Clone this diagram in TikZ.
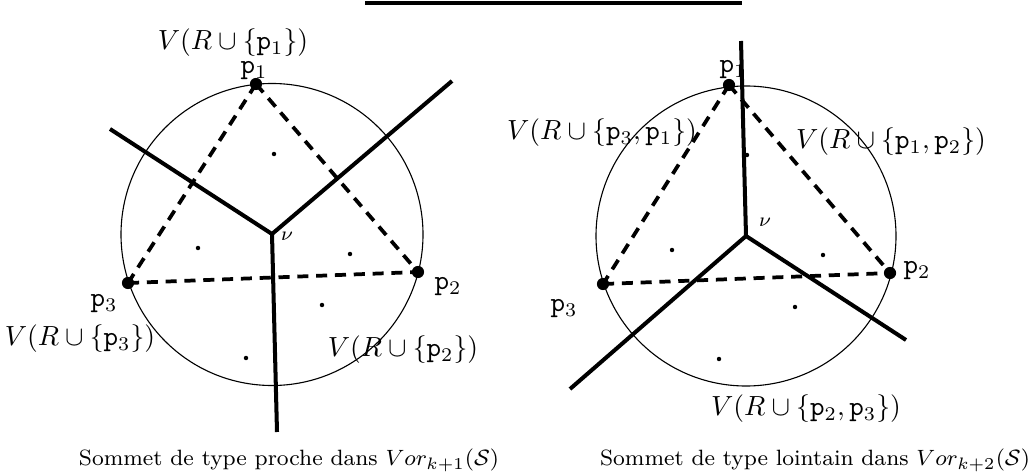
\documentclass[tikz,border=0pt]{standalone}
\usepackage{amsmath,amssymb}
\usepackage{tikz}
\usetikzlibrary{positioning, calc}

\begin{document}
\begin{tikzpicture}[
  x=0.0127cm, y=-0.0127cm,
  site/.style={circle, fill=black, inner sep=0pt, minimum size=4.4pt},
  pt/.style={circle, fill=black, inner sep=0pt, minimum size=1.6pt},
  ring/.style={draw, line width=0.4pt},
  dual/.style={line width=1.35pt, dash pattern=on 4pt off 2.8pt},
  bisect/.style={line width=1.45pt},
  lbl/.style={font=\normalsize, inner sep=1pt},
  captxt/.style={font=\footnotesize, inner sep=1pt},
]
\useasboundingbox (0,0) rectangle (1028,475);

% ===== rule at the top =====
\coordinate (r1) at (365,3);
\coordinate (r2) at (742,3);
\draw[line width=1.4pt] (r1) -- (r2);

% ===== left: vertex of near type =====
\node[circle, minimum size=302*0.0127cm, inner sep=0pt, ring] (cL) at (272,234.5) {};

\node[site] (a1) at (256,84) {};
\node[site] (a2) at (418,272) {};
\node[site] (a3) at (128,283) {};
\coordinate (nuL) at (272,234);

\draw[dual] (a1.center) -- (a2.center);
\draw[dual] (a1.center) -- (a3.center);
\draw[dual] (a3.center) -- (a2.center);

\coordinate (eL1) at (110,129);
\coordinate (eL2) at (452,81);
\coordinate (eL3) at (277,432);
\draw[bisect] (eL1) -- (nuL) -- (eL2);
\draw[bisect] (nuL) -- (eL3);

\foreach \px/\py in {274/154, 198/248, 350/254, 322/305, 246/358}
  \node[pt] at (\px,\py) {};

\node[font=\scriptsize, inner sep=0pt] (nuLl) at (287,236) {$\nu$};
\node[lbl] (lp1) at (254,71) {$\mathtt{p}_1$};
\node[lbl] (lp2) at (448,287) {$\mathtt{p}_2$};
\node[lbl] (lp3) at (104,304) {$\mathtt{p}_3$};
\node[lbl] (lv1) at (233,43) {$V(R\cup\{\mathtt{p}_1\})$};
\node[lbl] (lv3) at (80,339) {$V(R\cup\{\mathtt{p}_3\})$};
\node[lbl] (lv2) at (403,350) {$V(R\cup\{\mathtt{p}_2\})$};
\node[captxt] (capL) at (289,460) {Sommet de type proche dans $Vor_{k+1}(\mathcal{S})$};

% ===== right: vertex of far type =====
\node[circle, minimum size=300*0.0127cm, inner sep=0pt, ring] (cR) at (746,236) {};

\node[site] (b1) at (729,85) {};
\node[site] (b2) at (890,273) {};
\node[site] (b3) at (603,284) {};
\coordinate (nuR) at (746,236);

\draw[dual] (b1.center) -- (b2.center);
\draw[dual] (b1.center) -- (b3.center);
\draw[dual] (b3.center) -- (b2.center);

\coordinate (eR1) at (741,41);
\coordinate (eR2) at (570,389);
\coordinate (eR3) at (906,340);
\draw[bisect] (eR1) -- (nuR) -- (eR2);
\draw[bisect] (nuR) -- (eR3);

\foreach \px/\py in {747/155, 672/250, 823/255, 795/307, 719/359}
  \node[pt] at (\px,\py) {};

\node[font=\scriptsize, inner sep=0pt] (nuRl) at (765,222) {$\nu$};
\node[lbl] (lq1) at (733,70) {$\mathtt{p}_1$};
\node[lbl] (lq2) at (917,271) {$\mathtt{p}_2$};
\node[lbl] (lq3) at (564,309) {$\mathtt{p}_3$};
\node[lbl] (lw31) at (602,133) {$V(R\cup\{\mathtt{p}_3,\mathtt{p}_1\})$};
\node[lbl] (lw12) at (891,142) {$V(R\cup\{\mathtt{p}_1,\mathtt{p}_2\})$};
\node[lbl] (lw23) at (806,409) {$V(R\cup\{\mathtt{p}_2,\mathtt{p}_3\})$};
\node[captxt] (capR) at (815,460) {Sommet de type lointain dans $Vor_{k+2}(\mathcal{S})$};

\end{tikzpicture}
\end{document}
